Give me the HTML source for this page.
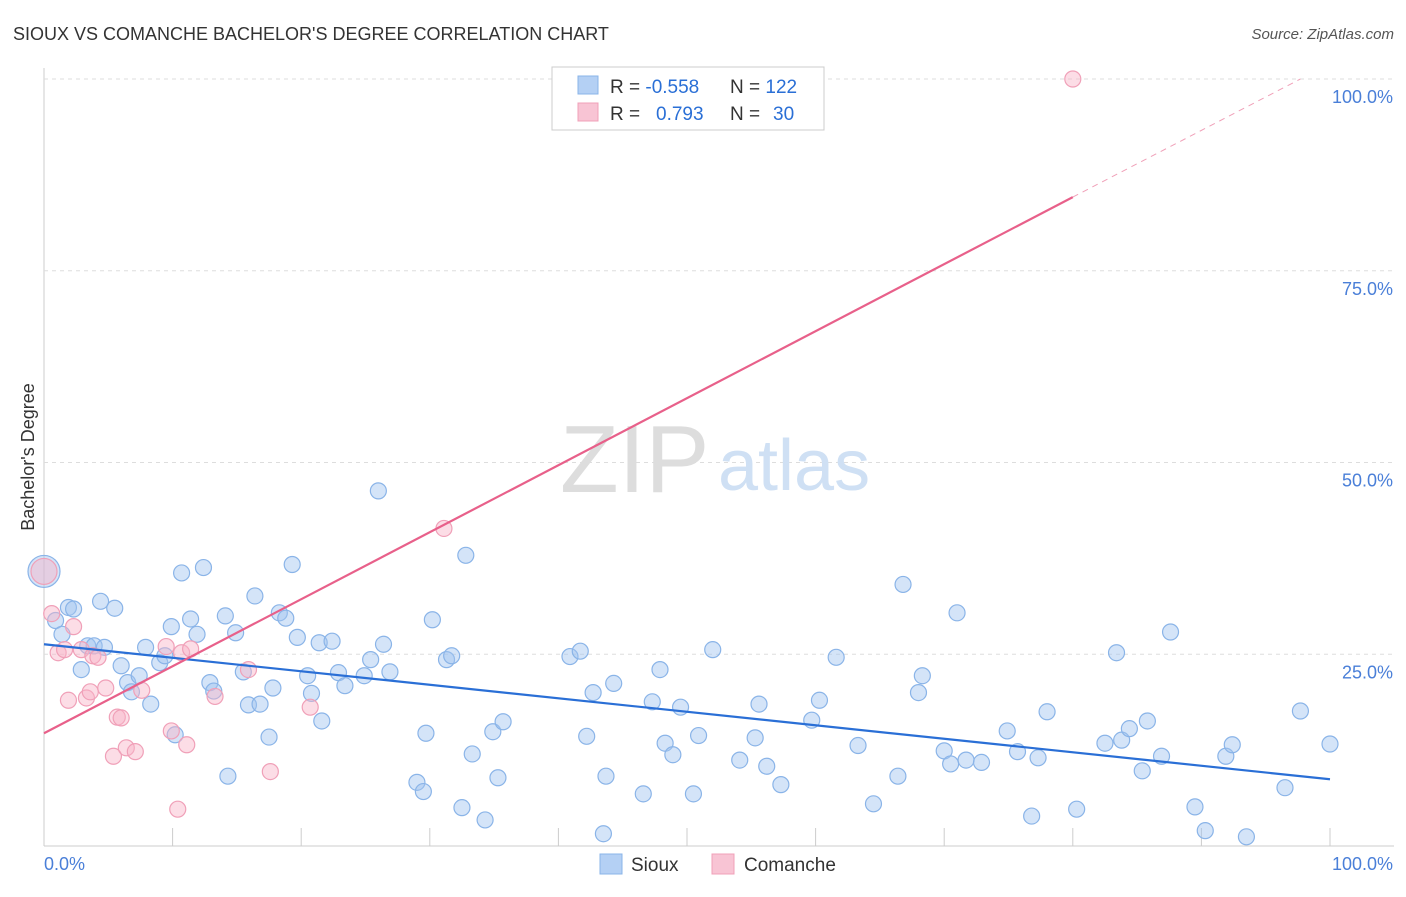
<!DOCTYPE html>
<html><head><meta charset="utf-8"><style>
body{margin:0;background:#fff;font-family:"Liberation Sans",sans-serif}
svg text{font-family:"Liberation Sans",sans-serif}
</style></head><body>
<svg width="1406" height="892" xmlns="http://www.w3.org/2000/svg">
<text x="13" y="40" font-size="18" fill="#333">SIOUX VS COMANCHE BACHELOR'S DEGREE CORRELATION CHART</text>
<text x="1394" y="39" font-size="15" fill="#555" font-style="italic" text-anchor="end">Source: ZipAtlas.com</text>
<g id="grid"></g>
<text x="560" y="492" font-size="96" fill="#ddd" font-family="Liberation Serif">ZIP</text>
<text x="718" y="490" font-size="72" fill="#cfe0f4">atlas</text>
<text transform="translate(34,457) rotate(-90)" font-size="18" fill="#333" text-anchor="middle">Bachelor's Degree</text>
<g id="pts"></g>
<g id="lines"></g>
<g>
<rect x="552" y="67" width="272" height="63" fill="#fff" stroke="#ccc"/>
<rect x="578" y="76" width="20" height="18" fill="#b4d0f4" stroke="#8ab4e8"/>
<rect x="578" y="103" width="20" height="18" fill="#f8c4d4" stroke="#f0a0b8"/>
<text x="610" y="93" font-size="19" fill="#333">R = <tspan fill="#2a6fd6">-0.558</tspan></text>
<text x="730" y="93" font-size="19" fill="#333">N = <tspan fill="#2a6fd6">122</tspan></text>
<text x="610" y="120" font-size="19" fill="#333">R = <tspan fill="#2a6fd6" x="656">0.793</tspan></text>
<text x="730" y="120" font-size="19" fill="#333">N = <tspan fill="#2a6fd6" x="773">30</tspan></text>
</g>
<g>
<rect x="600" y="854" width="22" height="20" fill="#b4d0f4" stroke="#8ab4e8"/>
<text x="631" y="871" font-size="19" fill="#333">Sioux</text>
<rect x="712" y="854" width="22" height="20" fill="#f8c4d4" stroke="#f0a0b8"/>
<text x="744" y="871" font-size="19" fill="#333">Comanche</text>
</g>
</svg>
<script>
const yTicks=[25,50,75,100];
const yTickLabels=["25.0%","50.0%","75.0%","100.0%"];
const xTicks=[0,10,20,30,40,50,60,70,80,90,100];
const siouxX=[0,0.9,1.4,1.9,2.3,2.9,3.4,3.9,4.4,4.7,5.5,6,6.5,6.8,7.4,7.9,8.3,9,9.4,9.9,10.2,10.7,11.4,11.9,12.4,12.9,13.2,14.1,14.3,14.9,15.5,15.9,16.4,16.8,17.5,17.8,18.3,18.8,19.3,19.7,20.5,20.8,21.4,21.6,22.4,22.9,23.4,24.9,25.4,26,26.4,26.9,29,29.5,29.7,30.2,31.3,31.7,32.5,32.8,33.3,34.3,34.9,35.3,35.7,40.9,41.7,42.2,42.7,43.5,43.7,44.3,46.6,47.3,47.9,48.3,48.9,49.5,50.5,50.9,52,54.1,55.3,55.6,56.2,57.3,59.7,60.3,61.6,63.3,64.5,66.4,66.8,68,68.3,70,70.5,71,71.7,72.9,74.9,75.7,76.8,77.3,78,80.3,82.5,83.4,83.8,84.4,85.4,85.8,86.9,87.6,89.5,90.3,91.9,92.4,93.5,96.5,97.7,100];
const siouxY=[35.8,29.4,27.6,31.1,30.9,23,26.1,26.1,31.9,25.9,31,23.5,21.3,20.1,22.2,25.9,18.5,23.9,24.8,28.6,14.5,35.6,29.6,27.6,36.3,21.3,20.2,30,9.1,27.8,22.7,18.4,32.6,18.5,14.2,20.6,30.4,29.7,36.7,27.2,22.2,19.9,26.5,16.3,26.7,22.6,20.9,22.2,24.3,46.3,26.3,22.7,8.3,7.1,14.7,29.5,24.3,24.8,5,37.9,12,3.4,14.9,8.9,16.2,24.7,25.4,14.3,20,1.6,9.1,21.2,6.8,18.8,23,13.4,11.9,18.1,6.8,14.4,25.6,11.2,14.1,18.5,10.4,8,16.4,19,24.6,13.1,5.5,9.1,34.1,20,22.2,12.4,10.7,30.4,11.2,10.9,15,12.3,3.9,11.5,17.5,4.8,13.4,25.2,13.8,15.3,9.8,16.3,11.7,27.9,5.1,2,11.7,13.2,1.2,7.6,17.6,13.3];
const comX=[0,0.6,1.1,1.6,1.9,2.3,2.9,3.3,3.6,3.8,4.2,4.8,5.4,5.7,6,6.4,7.1,7.6,9.5,9.9,10.4,10.7,11.1,11.4,13.3,15.9,17.6,20.7,31.1,80];
const comY=[35.8,30.3,25.2,25.6,19,28.6,25.6,19.3,20.1,24.8,24.6,20.6,11.7,16.8,16.7,12.8,12.3,20.3,26,15,4.8,25.2,13.2,25.7,19.5,23,9.7,18.1,41.4,100];
const X=v=>44+v*12.86, Y=v=>846-v*7.67;
const NS="http://www.w3.org/2000/svg";
function mk(t,a,p){const e=document.createElementNS(NS,t);for(const k in a)e.setAttribute(k,a[k]);p.appendChild(e);return e;}
const grid=document.getElementById('grid');
mk('line',{x1:44,y1:68,x2:44,y2:846,stroke:'#ccc'},grid);
mk('line',{x1:44,y1:846,x2:1394,y2:846,stroke:'#ccc'},grid);
yTicks.forEach((t,i)=>{
 const l=mk('line',{x1:44,y1:Y(t),x2:1394,y2:Y(t),stroke:'#ddd','stroke-dasharray':'4,4'},grid);
 
 
 const tx=mk('text',{x:1393,y:Y(t)+24,'font-size':18,fill:'#4a7fd8','text-anchor':'end'},grid);tx.textContent=yTickLabels[i];
 
 
});
xTicks.forEach(t=>{const l=mk('line',{x1:X(t),y1:828,x2:X(t),y2:846,stroke:'#ccc'},grid);
 
 });
let t0=mk('text',{x:44,y:870,'font-size':18,fill:'#4a7fd8'},grid);t0.textContent='0.0%';


let t1=mk('text',{x:1393,y:870,'font-size':18,fill:'#4a7fd8','text-anchor':'end'},grid);t1.textContent='100.0%';


const pts=document.getElementById('pts');
siouxX.forEach((x,i)=>{const c=mk('circle',{cx:X(x),cy:Y(siouxY[i]),r:i==0?16:8,fill:'rgba(160,196,240,0.45)',stroke:'#8ab4e8','stroke-width':1.2},pts);
 
 });
comX.forEach((x,i)=>{const c=mk('circle',{cx:X(x),cy:Y(comY[i]),r:i==0?13:8,fill:'rgba(248,180,200,0.45)',stroke:'#f0a0b8','stroke-width':1.2},pts);
 
 });
const lines=document.getElementById('lines');
const bl=mk('line',{x1:X(0),y1:Y(26.3),x2:X(100),y2:Y(8.7),stroke:'#2a6fd6','stroke-width':2.2},lines);


const pl=mk('line',{x1:X(0),y1:Y(14.7),x2:X(80),y2:Y(84.6),stroke:'#e8608a','stroke-width':2.2},lines);


const pd=mk('line',{x1:X(80),y1:Y(84.6),x2:X(97.7),y2:Y(100),stroke:'#f0a0b8','stroke-width':1,'stroke-dasharray':'6,5'},lines);


</script>
</body></html>
